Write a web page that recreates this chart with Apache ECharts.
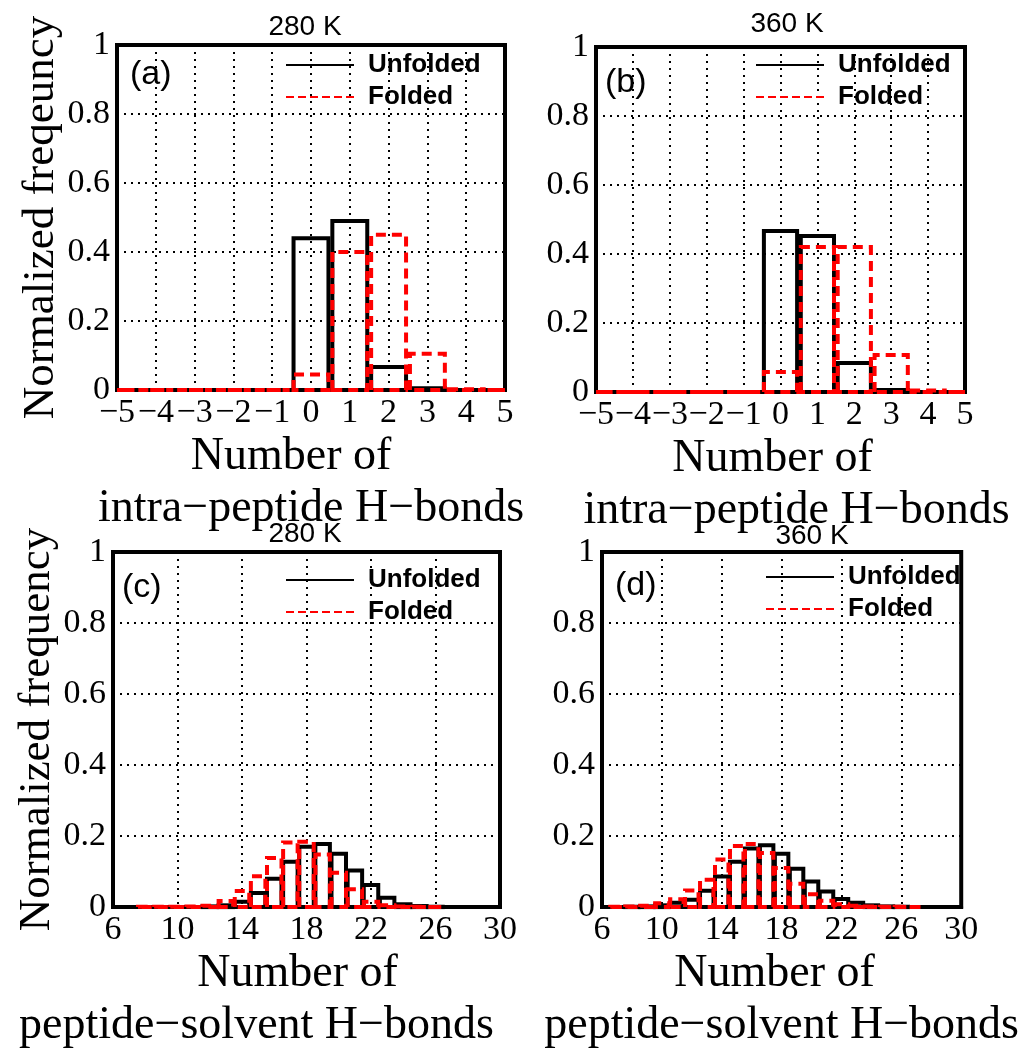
<!DOCTYPE html>
<html>
<head>
<meta charset="utf-8">
<script src="https://cdn.jsdelivr.net/npm/echarts@6/dist/echarts.min.js"></script>
<style>
html,body{margin:0;padding:0;background:#fff;}
#chart{width:1021px;height:1053px;}
</style>
</head>
<body>
<div id="chart"></div>
<script>
// ---- data ----
const binsAB = [-5, -4, -3, -2, -1, 0, 1, 2, 3, 4, 5];
const aUnfolded = [0, 0, 0, 0, 0, 0.44, 0.49, 0.067, 0.005, 0, 0];
const aFolded   = [0, 0, 0, 0, 0, 0.045, 0.40, 0.45, 0.105, 0.002, 0];
const bUnfolded = [0, 0, 0, 0, 0, 0.467, 0.452, 0.084, 0.006, 0, 0];
const bFolded   = [0, 0, 0, 0, 0, 0.058, 0.42, 0.42, 0.107, 0.004, 0];

const binsC = [8, 9, 10, 11, 12, 13, 14, 15, 16, 17, 18, 19, 20, 21, 22, 23, 24, 25, 26];
const cUnfolded = [0, 0, 0, 0, 0.002, 0.005, 0.015, 0.04, 0.08, 0.128, 0.17, 0.178, 0.15, 0.103, 0.062, 0.026, 0.008, 0.003, 0.001];
const cFolded   = [0.001, 0.001, 0.001, 0.002, 0.004, 0.017, 0.045, 0.087, 0.138, 0.182, 0.184, 0.148, 0.097, 0.05, 0.015, 0.005, 0.002, 0.001, 0];

const binsD = [7, 8, 9, 10, 11, 12, 13, 14, 15, 16, 17, 18, 19, 20, 21, 22, 23, 24, 25, 26, 27];
const dUnfolded = [0, 0.001, 0.002, 0.005, 0.012, 0.021, 0.046, 0.086, 0.128, 0.165, 0.174, 0.15, 0.108, 0.072, 0.044, 0.023, 0.012, 0.005, 0.002, 0.001, 0];
const dFolded   = [0.001, 0.002, 0.004, 0.011, 0.022, 0.047, 0.077, 0.134, 0.172, 0.178, 0.152, 0.11, 0.066, 0.036, 0.018, 0.008, 0.004, 0.002, 0.001, 0.001, 0];

const titles = ['280 K', '360 K', '280 K', '360 K'];
const panelLabels = ['(a)', '(b)', '(c)', '(d)'];
const yNames = ['Normalized freqeuncy', '', 'Normalized frequency', ''];
const xLine1 = 'Number of';
const xLine2Top = 'intra\u2212peptide H\u2212bonds';
const xLine2Bottom = 'peptide\u2212solvent H\u2212bonds';
const seriesNames = ['Unfolded', 'Folded'];

// ---- layout / style ----
const grids = [
  {left: 117, top: 45, width: 388, height: 345},
  {left: 596, top: 47, width: 369, height: 345},
  {left: 113, top: 552, width: 387, height: 367},
  {left: 602, top: 552, width: 371, height: 363}
];
const xRanges = [
  {min: -5, max: 5, interval: 1},
  {min: -5, max: 5, interval: 1},
  {min: 6, max: 30, interval: 4},
  {min: 6, max: 30, interval: 4}
];
const panels = [
  {bins: binsAB, u: aUnfolded, f: aFolded},
  {bins: binsAB, u: bUnfolded, f: bFolded},
  {bins: binsC, u: cUnfolded, f: cFolded},
  {bins: binsD, u: dUnfolded, f: dFolded}
];
const titlePos = [{x: 305, y: 13}, {x: 787, y: 10}, {x: 305, y: 520}, {x: 812, y: 522}];
const labelPos = [{x: 130, y: 58}, {x: 605, y: 66}, {x: 122, y: 571}, {x: 615, y: 569}];
const legendPos = [{x: 285, y: 51}, {x: 755, y: 51}, {x: 285, y: 566}, {x: 765, y: 563}];
// padding used to shift each line of the two-line x-axis name
const xNamePad = [
  {p1: [0, 40, 0, 0], p2: [0, 0, 0, 0]},
  {p1: [0, 16, 0, 0], p2: [0, 0, 0, 32]},
  {p1: [0, 18, 0, 0], p2: [0, 100, 0, 0]},
  {p1: [0, 14, 0, 0], p2: [0, 0, 0, 0]}
];

const SERIF = 'Liberation Serif, Times New Roman, serif';
const SANS = 'Liberation Sans, Arial, sans-serif';
const HALF = 0.45;

function barRender(stroke, dash, lo, hi) {
  return function (params, api) {
    const x = api.value(0), h = api.value(1);
    const l = Math.max(x - HALF, lo), r = Math.min(x + HALF, hi);
    const p0 = api.coord([l, 0]), p1 = api.coord([l, h]);
    const p2 = api.coord([r, h]), p3 = api.coord([r, 0]);
    return {
      type: 'polygon',
      shape: {points: [p0, p1, p2, p3]},
      style: {fill: 'none', stroke: stroke, lineWidth: 4, lineDash: dash, lineJoin: 'miter'}
    };
  };
}

const minus = v => String(v).replace('-', '\u2212');

const option = {
  backgroundColor: '#fff',
  animation: false,
  title: [],
  legend: [],
  grid: [],
  xAxis: [],
  yAxis: [],
  series: []
};

grids.forEach((g, i) => {
  option.grid.push({
    left: g.left, top: g.top, width: g.width, height: g.height,
    show: true, borderColor: '#000', borderWidth: 4, backgroundColor: '#fff'
  });
  const xr = xRanges[i];
  const pad = xNamePad[i];
  const line2 = i < 2 ? xLine2Top : xLine2Bottom;
  option.xAxis.push({
    type: 'value', gridIndex: i, min: xr.min, max: xr.max, interval: xr.interval,
    axisLine: {show: true, onZero: false, lineStyle: {color: '#000', width: 4}},
    axisTick: {show: false},
    splitLine: {show: true, lineStyle: {color: '#000', width: 2, type: [2, 5]}},
    axisLabel: {
      color: '#000', fontFamily: SERIF, fontSize: 34, margin: 6,
      formatter: v => minus(v)
    },
    name: '{l1|' + xLine1 + '}\n{l2|' + line2 + '}',
    nameLocation: 'middle',
    nameGap: i < 2 ? 36 : 34,
    nameTextStyle: {
      color: '#000', fontFamily: SERIF, fontSize: 46, lineHeight: 52,
      rich: {
        l1: {fontFamily: SERIF, fontSize: 46, lineHeight: 52, color: '#000', padding: pad.p1},
        l2: {fontFamily: SERIF, fontSize: 46, lineHeight: 52, color: '#000', padding: pad.p2}
      }
    }
  });
  option.yAxis.push({
    type: 'value', gridIndex: i, min: 0, max: 1, interval: 0.2,
    axisLine: {show: true, onZero: false, lineStyle: {color: '#000', width: 4}},
    axisTick: {show: false},
    splitLine: {show: true, lineStyle: {color: '#000', width: 2, type: [2, 5]}},
    axisLabel: {color: '#000', fontFamily: SERIF, fontSize: 34, margin: 7},
    name: yNames[i],
    nameLocation: 'middle',
    nameGap: 50,
    nameTextStyle: {color: '#000', fontFamily: SERIF, fontSize: 45}
  });
  option.title.push({
    text: titles[i], left: titlePos[i].x, top: titlePos[i].y, textAlign: 'center', padding: 0,
    textStyle: {color: '#000', fontFamily: SANS, fontSize: 28, fontWeight: 'normal'}
  });
  option.title.push({
    text: panelLabels[i], left: labelPos[i].x, top: labelPos[i].y, padding: 0,
    textStyle: {color: '#000', fontFamily: SANS, fontSize: 34, fontWeight: 'normal'}
  });
  option.legend.push({
    data: seriesNames, orient: 'vertical', left: legendPos[i].x, top: legendPos[i].y,
    padding: 0, itemGap: 4, itemWidth: 68, itemHeight: 4, selectedMode: false,
    itemStyle: {opacity: 0},
    textStyle: {color: '#000', fontFamily: SANS, fontSize: 26, fontWeight: 'bold', lineHeight: 28, padding: [0, 0, 0, 9]}
  });
});

// legend-only line series carry the legend line styles
option.series.push({
  type: 'line', name: seriesNames[0], xAxisIndex: 0, yAxisIndex: 0, data: [], symbol: 'none',
  lineStyle: {color: '#000', width: 3}, itemStyle: {color: '#000'}
});
option.series.push({
  type: 'line', name: seriesNames[1], xAxisIndex: 0, yAxisIndex: 0, data: [], symbol: 'none',
  lineStyle: {color: '#ff0000', width: 3, type: [8, 4]}, itemStyle: {color: '#ff0000'}
});

panels.forEach((p, i) => {
  const xr = xRanges[i];
  option.series.push({
    type: 'custom', name: seriesNames[0], xAxisIndex: i, yAxisIndex: i, silent: true, z: 3,
    itemStyle: {color: '#000'},
    data: p.bins.map((b, k) => [b, p.u[k]]),
    encode: {x: 0, y: 1},
    renderItem: barRender('#000', null, xr.min, xr.max)
  });
  option.series.push({
    type: 'custom', name: seriesNames[1], xAxisIndex: i, yAxisIndex: i, silent: true, z: 4,
    itemStyle: {color: '#ff0000'},
    data: p.bins.map((b, k) => [b, p.f[k]]),
    encode: {x: 0, y: 1},
    renderItem: barRender('#ff0000', [10, 6], xr.min, xr.max)
  });
});

const chart = echarts.init(document.getElementById('chart'), null, {renderer: 'canvas'});
chart.setOption(option);
</script>
</body>
</html>
